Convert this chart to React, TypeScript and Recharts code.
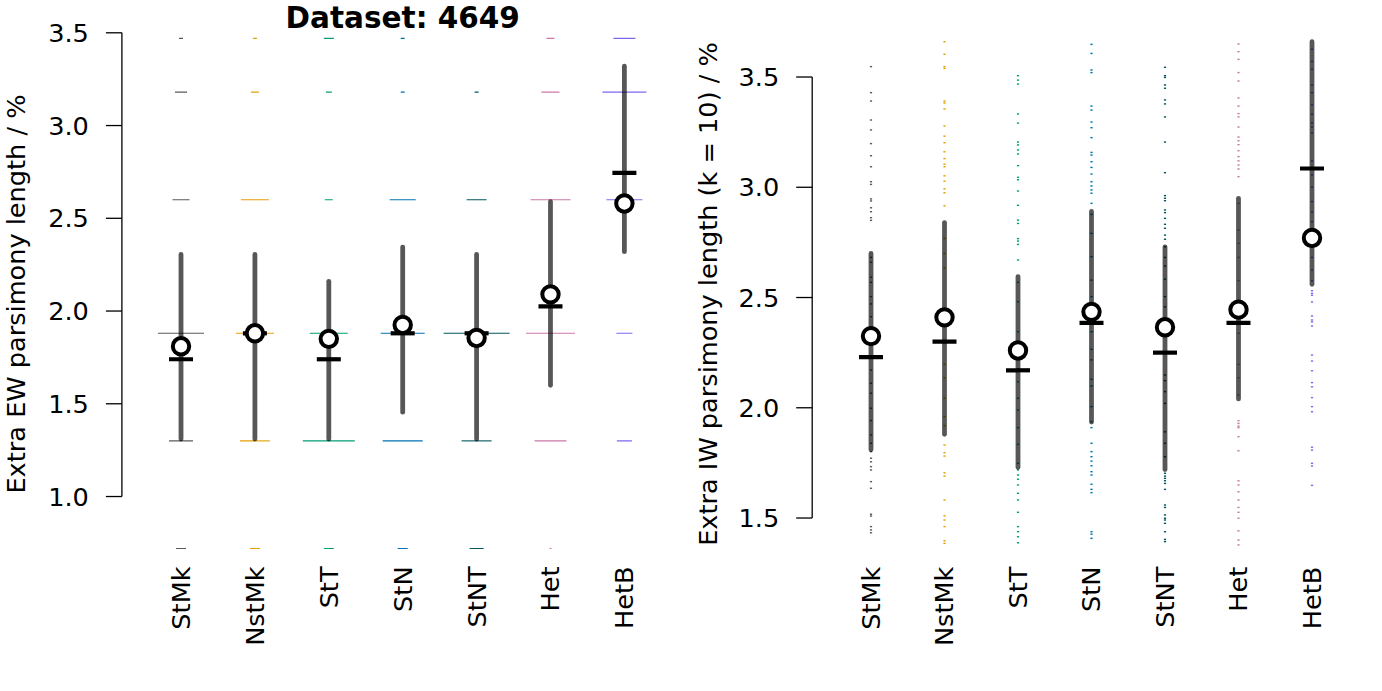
import React from 'react';
import { ComposedChart, Scatter, XAxis, YAxis, ReferenceLine } from 'recharts';

const categories = ['StMk', 'NstMk', 'StT', 'StN', 'StNT', 'Het', 'HetB'];
const palette = ['#5a5a5a', '#E69F00', '#009E73', '#0072B2', '#00565C', '#CC79A7', '#7B68EE'];

// ---- left panel: extra EW parsimony length (%) ----
const ewTicks = [1.0, 1.5, 2.0, 2.5, 3.0, 3.5];
const ewLevels = [0.72, 1.3, 1.88, 2.6, 3.18, 3.47];
// relative frequency of trees at each level (drawn as dash width)
const ewFreq = [
  [10, 24, 46, 17, 12, 4],
  [10, 30, 38, 28, 8, 4],
  [10, 52, 38, 8, 6, 10],
  [10, 40, 44, 26, 4, 4],
  [14, 30, 66, 20, 4, 0],
  [2, 32, 49, 40, 18, 8],
  [0, 15, 16, 36, 44, 22],
];
const ewLow = [1.31, 1.31, 1.31, 1.455, 1.31, 1.6, 2.32];
const ewHigh = [2.305, 2.305, 2.16, 2.345, 2.305, 2.59, 3.32];
const ewMedian = [1.74, 1.88, 1.74, 1.88, 1.88, 2.025, 2.745];
const ewMean = [1.81, 1.88, 1.85, 1.925, 1.855, 2.09, 2.58];

// ---- right panel: extra IW parsimony length (k = 10, %) ----
const iwTicks = [1.5, 2.0, 2.5, 3.0, 3.5];
const iwStMk = [3.547, 3.429, 3.391, 3.305, 3.26, 3.198, 3.143, 3.093, 3.025, 3.013, 2.947, 2.938, 2.907, 2.889, 2.862, 2.85, 2.682, 2.66, 2.592, 2.569, 2.504, 2.471, 2.413, 2.171, 2.111, 2.066, 1.998, 1.942, 1.877, 1.839, 1.801, 1.771, 1.755, 1.733, 1.718, 1.665, 1.635, 1.517, 1.509, 1.461, 1.446, 1.433];
const iwNstMk = [3.66, 3.603, 3.547, 3.539, 3.391, 3.382, 3.355, 3.278, 3.232, 3.202, 3.161, 3.13, 3.105, 3.093, 3.052, 3.028, 2.993, 2.975, 2.916, 2.768, 2.7, 2.635, 2.292, 2.197, 2.136, 2.043, 1.96, 1.919, 1.831, 1.796, 1.781, 1.705, 1.69, 1.582, 1.51, 1.491, 1.461, 1.397, 1.385];
const iwStT = [3.506, 3.486, 3.468, 3.332, 3.291, 3.205, 3.192, 3.169, 3.151, 3.098, 3.045, 3.034, 2.983, 2.918, 2.851, 2.836, 2.767, 2.756, 2.741, 2.67, 2.569, 2.481, 2.345, 2.118, 2.043, 1.99, 1.91, 1.834, 1.748, 1.718, 1.695, 1.676, 1.65, 1.612, 1.582, 1.526, 1.461, 1.438, 1.415, 1.388];
const iwStN = [3.648, 3.607, 3.532, 3.52, 3.368, 3.35, 3.296, 3.27, 3.225, 3.158, 3.146, 3.116, 3.09, 3.06, 3.025, 3.006, 2.988, 2.973, 2.927, 2.877, 2.791, 2.685, 2.579, 2.504, 2.345, 2.265, 2.217, 2.129, 2.099, 2.005, 1.937, 1.91, 1.839, 1.801, 1.778, 1.758, 1.737, 1.71, 1.695, 1.653, 1.63, 1.615, 1.438, 1.427, 1.408];
const iwStNT = [3.544, 3.506, 3.498, 3.464, 3.449, 3.396, 3.378, 3.319, 3.205, 3.066, 2.962, 2.95, 2.939, 2.897, 2.885, 2.859, 2.832, 2.814, 2.783, 2.764, 2.73, 2.682, 2.643, 2.583, 2.504, 2.458, 2.149, 2.123, 2.073, 2.02, 1.891, 1.839, 1.778, 1.703, 1.69, 1.68, 1.669, 1.657, 1.63, 1.559, 1.548, 1.514, 1.499, 1.491, 1.476, 1.438, 1.403, 1.393];
const iwHet = [3.65, 3.615, 3.58, 3.52, 3.482, 3.405, 3.368, 3.334, 3.319, 3.273, 3.228, 3.211, 3.193, 3.166, 3.139, 3.12, 3.101, 3.083, 3.048, 2.927, 2.806, 2.746, 2.682, 2.576, 2.338, 2.197, 2.136, 2.058, 1.941, 1.929, 1.917, 1.91, 1.869, 1.805, 1.669, 1.65, 1.619, 1.582, 1.548, 1.526, 1.499, 1.442, 1.4, 1.378];
const iwHetB = [3.626, 3.571, 3.535, 3.464, 3.429, 3.374, 3.331, 3.291, 3.273, 3.247, 3.119, 3.056, 3.0, 2.935, 2.889, 2.844, 2.682, 2.625, 2.576, 2.531, 2.519, 2.51, 2.48, 2.416, 2.398, 2.389, 2.371, 2.239, 2.212, 2.168, 2.114, 2.095, 2.046, 2.005, 1.982, 1.821, 1.808, 1.748, 1.736, 1.648];
const iwLow = [1.81, 1.88, 1.73, 1.935, 1.72, 2.04, 2.56];
const iwHigh = [2.7, 2.84, 2.595, 2.89, 2.73, 2.95, 3.66];
const iwMedian = [2.23, 2.3, 2.17, 2.385, 2.25, 2.385, 3.085];
const iwMean = [2.325, 2.41, 2.26, 2.435, 2.365, 2.445, 2.77];

const FONT = '"DejaVu Sans", sans-serif';
const FS = 25.6;
const X_DOMAIN = [-0.8, 6.8];
const xTicks = categories.map((_, i) => i);

const ewDashes = categories.map((_, i) =>
  ewLevels.map((y, j) => ({ x: i, y, w: ewFreq[i][j] })).filter((d) => d.w > 0)
);
const iwDots = [iwStMk, iwNstMk, iwStT, iwStN, iwStNT, iwHet, iwHetB].map((vals, i) =>
  vals.map((y) => ({ x: i, y }))
);
const whiskers = (lo: number[], hi: number[]) =>
  categories.map((_, i) => [{ x: i, y: lo[i] }, { x: i, y: hi[i] }]);
const points = (vals: number[]) => vals.map((y, i) => ({ x: i, y }));

const fmt = (v: number) => v.toFixed(1);

const dashShape = (color: string) => (p: any) => (
  <line x1={p.cx - p.payload.w / 2} x2={p.cx + p.payload.w / 2} y1={p.cy} y2={p.cy} stroke={color} strokeWidth={1.1} />
);
const dotShape = (color: string) => (p: any) => (
  <rect x={p.cx - 1.1} y={p.cy - 0.7} width={2.2} height={1.4} fill={color} />
);
const noShape = () => <g />;
const medianShape = (p: any) => (
  <line x1={p.cx - 12} x2={p.cx + 12} y1={p.cy} y2={p.cy} stroke="#000" strokeWidth={4.2} />
);
const meanShape = (p: any) => (
  <circle cx={p.cx} cy={p.cy} r={8.2} fill="#fff" stroke="#000" strokeWidth={4} />
);

const CategoryTick = ({ x, y, payload }: any) => (
  <text
    x={0}
    y={0}
    transform={`translate(${x},${y}) rotate(-90)`}
    textAnchor="end"
    dy="0.35em"
    fontSize={FS}
    fontFamily={FONT}
    fill="#000"
  >
    {categories[payload.value]}
  </text>
);

const whiskerLine = { stroke: '#000', strokeOpacity: 0.66, strokeWidth: 4.8, strokeLinecap: 'round' };

export default function App() {
  return (
    <div style={{ position: 'absolute', left: 0, top: 0, width: 1382, height: 691, display: 'flex', background: '#fff' }}>
      <ComposedChart width={691} height={691} margin={{ top: 14.25, right: 7.5, bottom: 9.55, left: 0 }}>
        <XAxis type="number" dataKey="x" domain={X_DOMAIN} ticks={xTicks} interval={0} allowDataOverflow
          axisLine={false} tickLine={false} tickSize={0} tickMargin={5} height={120} tick={<CategoryTick />} />
        <YAxis type="number" dataKey="y" domain={[0.65, 3.6]} ticks={ewTicks} interval={0} allowDataOverflow width={121.9}
          axisLine={false} tickLine={{ stroke: '#000', strokeWidth: 1.3 }} tickSize={16} tickMargin={17}
          tick={{ fontSize: FS, fontFamily: FONT, fill: '#000' }} tickFormatter={fmt} />
        <ReferenceLine segment={[{ x: X_DOMAIN[0], y: ewTicks[0] }, { x: X_DOMAIN[0], y: ewTicks[ewTicks.length - 1] }]}
          stroke="#000" strokeWidth={1.3} ifOverflow="visible" />
        {ewDashes.map((d, i) => (
          <Scatter key={'ewd' + i} data={d} shape={dashShape(palette[i])} isAnimationActive={false} />
        ))}
        {whiskers(ewLow, ewHigh).map((d, i) => (
          <Scatter key={'eww' + i} data={d} line={whiskerLine} lineType="joint" shape={noShape} isAnimationActive={false} />
        ))}
        <Scatter data={points(ewMedian)} shape={medianShape} isAnimationActive={false} />
        <Scatter data={points(ewMean)} shape={meanShape} isAnimationActive={false} />
        <text x={402.7} y={27.5} textAnchor="middle" fontSize={29.5} fontWeight="bold" fontFamily={FONT} fill="#000">
          Dataset: 4649
        </text>
        <text transform="translate(25,294) rotate(-90)" textAnchor="middle" fontSize={FS} fontFamily={FONT} fill="#000">
          Extra EW parsimony length / %
        </text>
      </ComposedChart>

      <ComposedChart width={691} height={691} margin={{ top: 28.5, right: 11.2, bottom: 19.9, left: 0 }}>
        <XAxis type="number" dataKey="x" domain={X_DOMAIN} ticks={xTicks} interval={0} allowDataOverflow
          axisLine={false} tickLine={false} tickSize={0} tickMargin={15.5} height={120} tick={<CategoryTick />} />
        <YAxis type="number" dataKey="y" domain={[1.35, 3.72]} ticks={iwTicks} interval={0} allowDataOverflow width={121.2}
          axisLine={false} tickLine={{ stroke: '#000', strokeWidth: 1.3 }} tickSize={16} tickMargin={17}
          tick={{ fontSize: FS, fontFamily: FONT, fill: '#000' }} tickFormatter={fmt} />
        <ReferenceLine segment={[{ x: X_DOMAIN[0], y: iwTicks[0] }, { x: X_DOMAIN[0], y: iwTicks[iwTicks.length - 1] }]}
          stroke="#000" strokeWidth={1.3} ifOverflow="visible" />
        {iwDots.map((d, i) => (
          <Scatter key={'iwd' + i} data={d} shape={dotShape(palette[i])} isAnimationActive={false} />
        ))}
        {whiskers(iwLow, iwHigh).map((d, i) => (
          <Scatter key={'iww' + i} data={d} line={whiskerLine} lineType="joint" shape={noShape} isAnimationActive={false} />
        ))}
        <Scatter data={points(iwMedian)} shape={medianShape} isAnimationActive={false} />
        <Scatter data={points(iwMean)} shape={meanShape} isAnimationActive={false} />
        <text transform="translate(26,294) rotate(-90)" textAnchor="middle" fontSize={FS} fontFamily={FONT} fill="#000">
          Extra IW parsimony length (k = 10) / %
        </text>
      </ComposedChart>
    </div>
  );
}
